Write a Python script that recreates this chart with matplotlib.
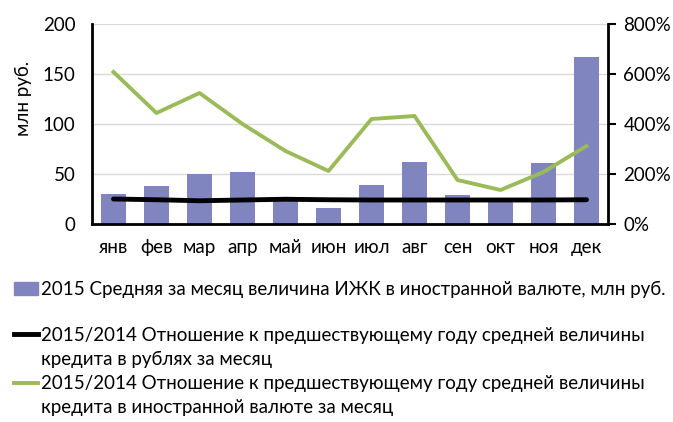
import matplotlib
matplotlib.use("Agg")
import matplotlib.pyplot as plt
from matplotlib.patches import Patch
from matplotlib.lines import Line2D
from matplotlib.ticker import FuncFormatter

plt.rcParams['font.family'] = ['Lato', 'DejaVu Sans']

months = ["янв", "фев", "мар", "апр", "май", "июн", "июл", "авг", "сен", "окт", "ноя", "дек"]
bar_vals = [30, 38, 50, 52, 26, 16, 39, 62, 29, 25, 61, 167]
rub_ratio = [100, 97, 93, 96, 99, 97, 96, 96, 96, 96, 96, 97]
fx_ratio = [608, 444, 524, 400, 292, 212, 420, 432, 176, 136, 208, 312]

bar_label = "2015 Средняя за месяц величина ИЖК в иностранной валюте, млн руб."
rub_label = ["2015/2014 Отношение к предшествующему году средней величины",
             "кредита в рублях за месяц"]
fx_label = ["2015/2014 Отношение к предшествующему году средней величины",
            "кредита в иностранной валюте за месяц"]

bar_color = "#8085BF"
green = "#9BBB59"

fig = plt.figure(figsize=(6.73, 4.22), dpi=100)
W, H = 673, 422
ax = fig.add_axes([92 / W, 1 - 224 / H, (608 - 92) / W, 200 / H])
x = list(range(len(months)))
ax.bar(x, bar_vals, width=0.6, color=bar_color, zorder=2)
ax.set_ylim(0, 200)
ax.set_yticks([0, 50, 100, 150, 200])
ax.set_xlim(-0.5, 11.5)
ax.set_xticks(x)
ax.set_xticklabels(months)
ax.grid(axis='y', color='#D9D9D9', linewidth=1, zorder=0)
ax.set_axisbelow(True)
for s in ['top', 'right']:
    ax.spines[s].set_visible(False)
ax.spines['left'].set_linewidth(2)
ax.spines['bottom'].set_linewidth(2)
ax.tick_params(axis='both', length=0, labelsize=13.5, pad=11)
ax.tick_params(axis='y', pad=12)
ax.set_ylabel("млн руб.", fontsize=13.5)
ax.yaxis.set_label_coords(-0.117, 0.63)

ax2 = ax.twinx()
ax2.plot(x, rub_ratio, color='black', linewidth=3.5, solid_capstyle='round', zorder=3)
ax2.plot(x, fx_ratio, color=green, linewidth=2.8, zorder=3)
ax2.set_ylim(0, 800)
ax2.set_yticks([0, 200, 400, 600, 800])
ax2.yaxis.set_major_formatter(FuncFormatter(lambda v, p: f"{int(v)}%"))
for s in ['top', 'left', 'bottom']:
    ax2.spines[s].set_visible(False)
ax2.spines['right'].set_linewidth(2)
ax2.tick_params(axis='y', length=6, width=1.5, labelsize=13.5, pad=5)

fs = 13.5
h1 = [Patch(color=bar_color)]
fig.legend(h1, [bar_label], loc='upper left', bbox_to_anchor=(14 / W, 1 - 281 / H),
           frameon=False, fontsize=fs, handlelength=1.3, handleheight=0.75, handletextpad=0.15,
           borderpad=0, borderaxespad=0)
blank = Line2D([], [], color='none')
h2 = [Line2D([], [], color='black', linewidth=3.5), blank,
      Line2D([], [], color=green, linewidth=2.8), blank]
labels2 = [rub_label[0], rub_label[1], fx_label[0], fx_label[1]]
fig.legend(h2, labels2, loc='upper left', bbox_to_anchor=(14 / W, 1 - 327 / H),
           frameon=False, fontsize=fs, handlelength=1.3, handletextpad=0.15, labelspacing=0.38,
           borderpad=0, borderaxespad=0)

fig.savefig("out.png", dpi=100)
